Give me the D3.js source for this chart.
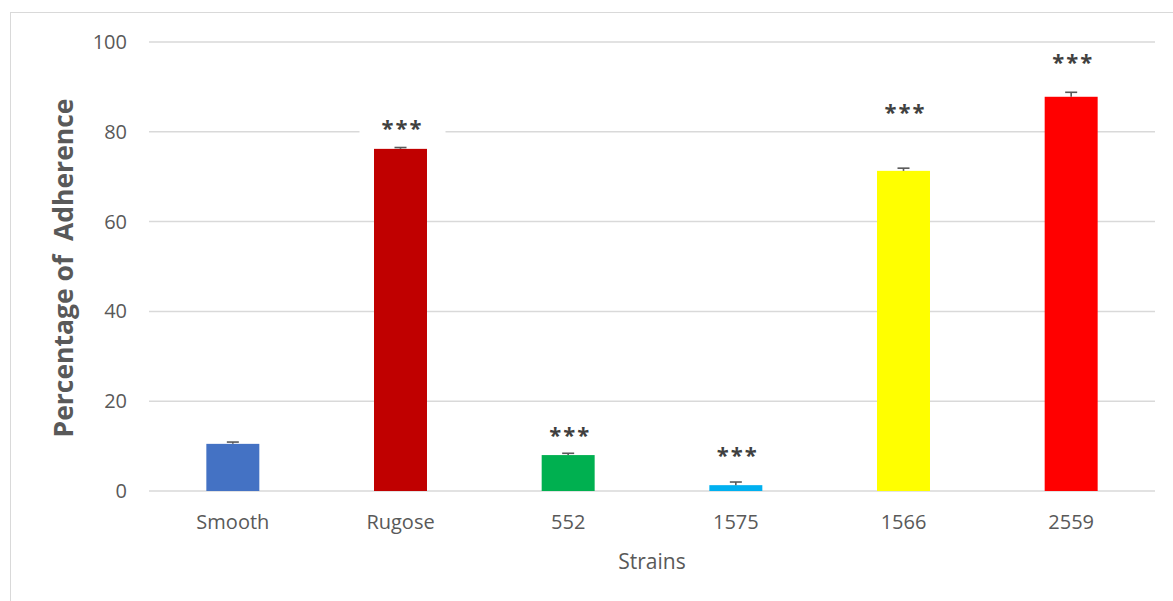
<!DOCTYPE html>
<html>
<head>
<meta charset="utf-8">
<script src="https://cdn.jsdelivr.net/npm/d3@7"></script>
<style>
  html, body { margin: 0; padding: 0; background: #fff; }
  svg { display: block; }
  text { font-family: "Open Sans", "Noto Sans", sans-serif; }
</style>
</head>
<body>
<svg id="chart" width="1173" height="601"></svg>
<script>
// Adherence of each strain (%), with upper error bars
const strains = ["Smooth", "Rugose", "552", "1575", "1566", "2559"];
const adherence = [10.5, 76.2, 8.0, 1.3, 71.3, 87.8];
const errors = [0.4, 0.3, 0.4, 0.7, 0.6, 1.0];
const barColors = ["#4472C4", "#C00000", "#00B050", "#00B0F0", "#FFFF00", "#FF0000"];
// Significance markers and the value level where each one sits
const sigMarks = ["", "***", "***", "***", "***", "***"];
const sigLevels = [null, 81.7, 13.4, 8.9, 85.3, 96.4];
const yTicks = [0, 20, 40, 60, 80, 100];

const svg = d3.select("#chart");
const W = 1173, H = 601;
const plot = { left: 149, right: 1155, top: 42, bottom: 491 };
const textColor = "#595959";

// Chart frame
svg.append("rect")
  .attr("x", 10.5).attr("y", 12.5)
  .attr("width", W + 10).attr("height", H + 10)
  .attr("fill", "#fff").attr("stroke", "#d9d9d9").attr("stroke-width", 1);

const x = d3.scaleBand().domain(strains).range([plot.left, plot.right]).paddingInner(0).paddingOuter(0);
const y = d3.scaleLinear().domain([0, 100]).range([plot.bottom, plot.top]);
const barW = x.bandwidth() * 0.316;

// Gridlines
svg.append("g")
  .selectAll("line")
  .data(yTicks)
  .join("line")
  .attr("x1", plot.left).attr("x2", plot.right)
  .attr("y1", d => y(d)).attr("y2", d => y(d))
  .attr("stroke", "#d9d9d9").attr("stroke-width", 1.5);

// Y axis labels
const yAxis = svg.append("g")
  .attr("transform", `translate(${plot.left - 22},0)`)
  .call(d3.axisLeft(y).tickValues(yTicks).tickSize(0).tickPadding(0));
yAxis.select(".domain").remove();
yAxis.selectAll("text")
  .attr("fill", textColor)
  .style("font-size", "20px")
  .style("font-family", "'Open Sans', sans-serif");

// X axis labels
const xAxis = svg.append("g")
  .attr("transform", `translate(0,${plot.bottom + 24})`)
  .call(d3.axisBottom(x).tickSize(0).tickPadding(0));
xAxis.select(".domain").remove();
xAxis.selectAll("text")
  .attr("fill", textColor)
  .style("font-size", "20px")
  .style("font-family", "'Open Sans', sans-serif");

// Bars
svg.append("g")
  .selectAll("rect")
  .data(strains)
  .join("rect")
  .attr("x", d => x(d) + x.bandwidth() / 2 - barW / 2)
  .attr("width", barW)
  .attr("y", (d, i) => y(adherence[i]))
  .attr("height", (d, i) => y(0) - y(adherence[i]))
  .attr("fill", (d, i) => barColors[i]);

// Error bars (upper)
const eb = svg.append("g").attr("stroke", "#595959").attr("stroke-width", 1.6);
strains.forEach((s, i) => {
  const cx = x(s) + x.bandwidth() / 2;
  const top = y(adherence[i] + errors[i]);
  eb.append("line")
    .attr("x1", cx).attr("x2", cx)
    .attr("y1", y(adherence[i])).attr("y2", top);
  eb.append("line")
    .attr("x1", cx - 6).attr("x2", cx + 6)
    .attr("y1", top).attr("y2", top);
});

// Significance markers with white text boxes
const sig = svg.append("g");
strains.forEach((s, i) => {
  if (!sigMarks[i]) return;
  const cx = x(s) + x.bandwidth() / 2 + 2;
  const cy = y(sigLevels[i]);
  sig.append("rect")
    .attr("x", cx - 43).attr("y", cy - 14)
    .attr("width", 86).attr("height", 28)
    .attr("fill", "#fff");
  sig.append("text")
    .attr("x", cx).attr("y", cy + 12)
    .attr("text-anchor", "middle")
    .attr("fill", "#404040")
    .attr("font-weight", "bold")
    .attr("letter-spacing", "2px")
    .style("font-size", "22px")
    .text(sigMarks[i]);
});

// Axis titles
svg.append("text")
  .attr("transform", `translate(73,268) rotate(-90)`)
  .attr("text-anchor", "middle")
  .attr("fill", textColor)
  .attr("font-weight", "bold")
  .style("font-size", "26.5px")
  .style("white-space", "pre")
  .attr("xml:space", "preserve")
  .text("Percentage of  Adherence");

svg.append("text")
  .attr("x", (plot.left + plot.right) / 2)
  .attr("y", 569)
  .attr("text-anchor", "middle")
  .attr("fill", textColor)
  .style("font-size", "21px")
  .text("Strains");
</script>
</body>
</html>
